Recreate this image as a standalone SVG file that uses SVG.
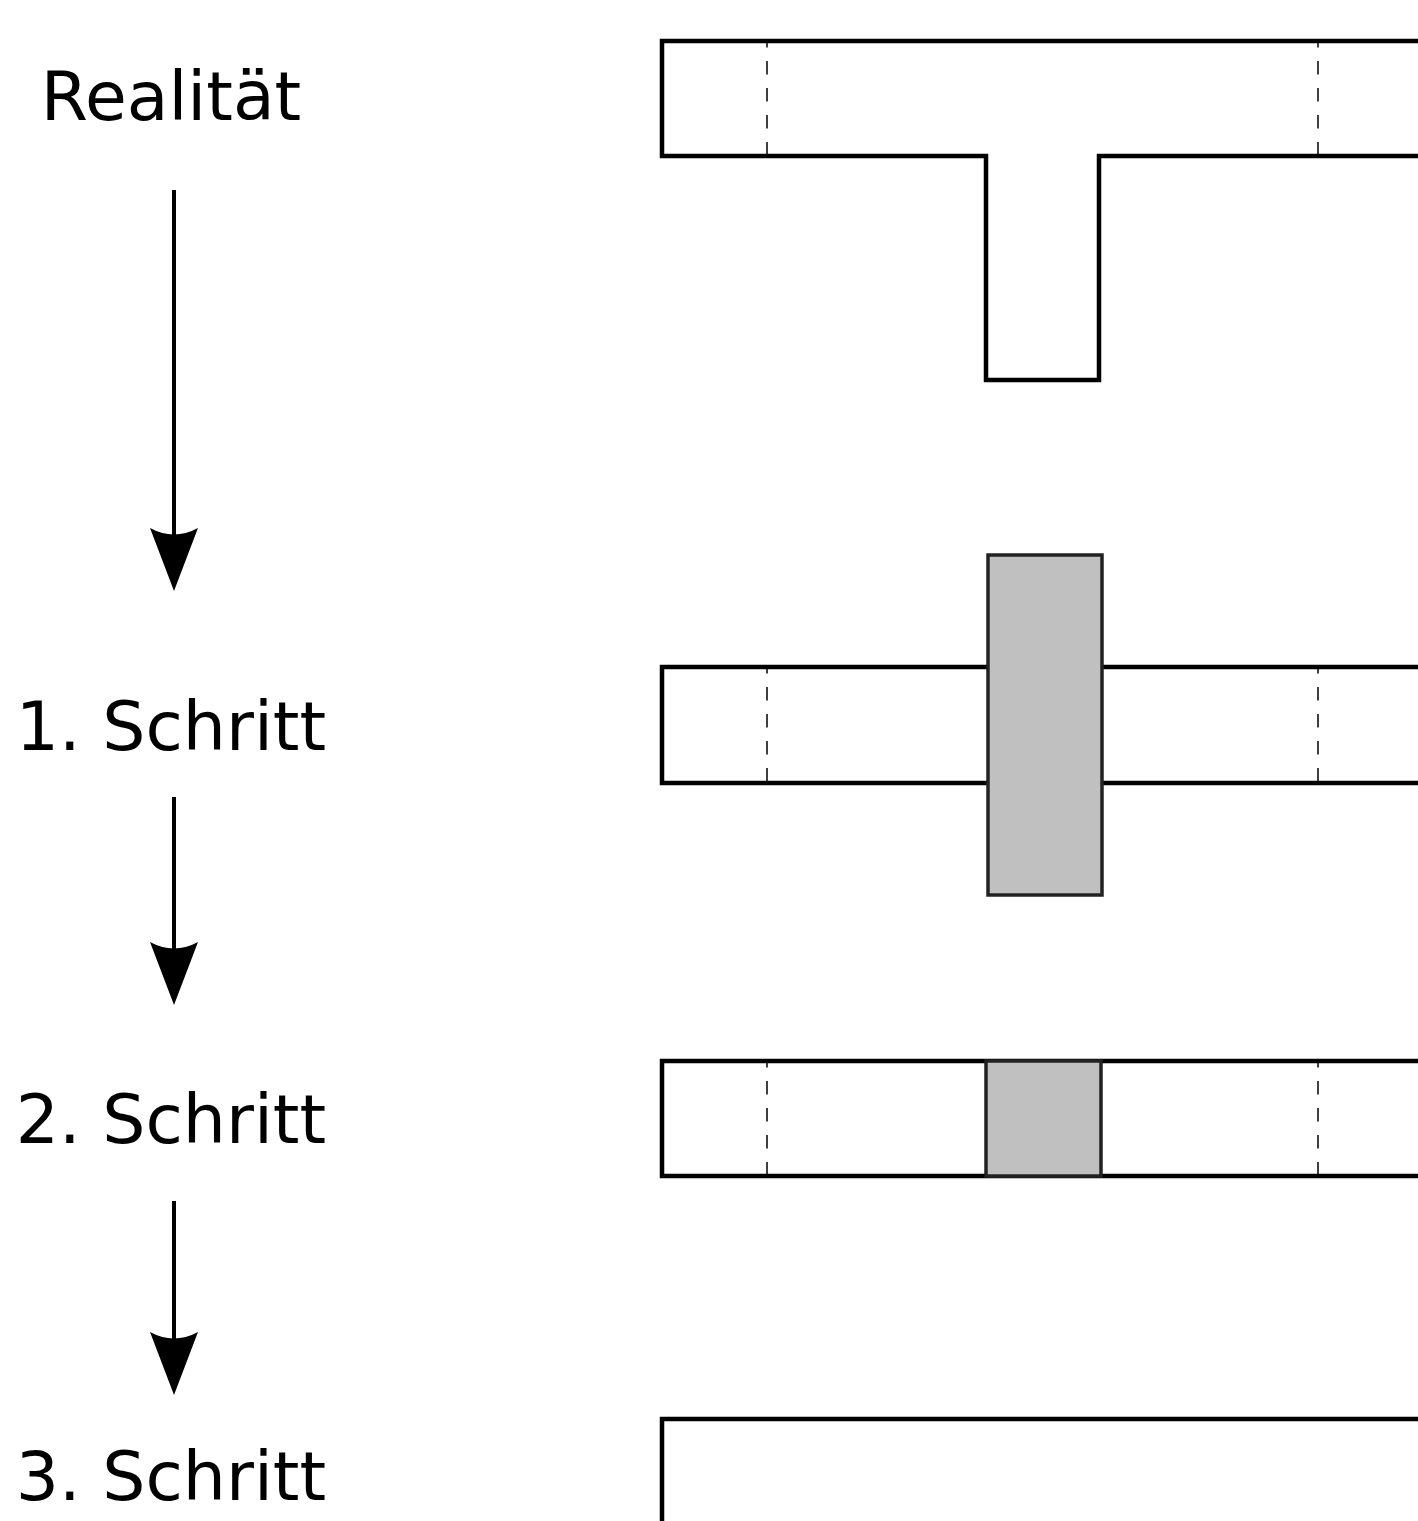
<svg xmlns="http://www.w3.org/2000/svg" width="1418" height="1521" viewBox="0 0 1418 1521">
<style>
.o{fill:none;stroke:#000;stroke-width:4.5;stroke-linejoin:miter}
.w{fill:#fff;stroke:#000;stroke-width:4.5}
.d{stroke:#000;stroke-width:1.5;stroke-dasharray:13.5 13.5;stroke-dashoffset:7}
.g{fill:#c0c0c0;stroke:#222;stroke-width:3.5}
.t{font-family:"DejaVu Sans",sans-serif;font-size:68px;fill:#000;text-anchor:middle}
.a{stroke:#000;stroke-width:4}
</style>
<defs>
<path id="head" d="M0,0 L-24,-63 Q0,-50 24,-63 Z" fill="#000"/>
</defs>
<rect width="1418" height="1521" fill="#fff"/>
<g id="labels">
<text class="t" x="171" y="120">Realität</text>
<text class="t" x="171" y="750">1. Schritt</text>
<text class="t" x="171" y="1143">2. Schritt</text>
<text class="t" x="171" y="1500">3. Schritt</text>
</g>
<g id="connectors">
<line class="a" x1="174" y1="190" x2="174" y2="545"/>
<use href="#head" x="174" y="591"/>
<line class="a" x1="174" y1="797" x2="174" y2="960"/>
<use href="#head" x="174" y="1005"/>
<line class="a" x1="174" y1="1201" x2="174" y2="1350"/>
<use href="#head" x="174" y="1395"/>
</g>
<g id="reality">
<path class="w" d="M1425,41 L662,41 L662,156 L986,156 L986,380 L1099,380 L1099,156 L1425,156"/>
<line class="d" x1="767" y1="41" x2="767" y2="156"/>
<line class="d" x1="1318" y1="41" x2="1318" y2="156"/>
</g>
<g id="step1">
<path class="w" d="M1425,667 L662,667 L662,783 L1425,783"/>
<line class="d" x1="767" y1="667" x2="767" y2="783"/>
<line class="d" x1="1318" y1="667" x2="1318" y2="783"/>
<rect class="g" x="988" y="555" width="114" height="340"/>
</g>
<g id="step2">
<path class="w" d="M1425,1061 L662,1061 L662,1176 L1425,1176"/>
<line class="d" x1="767" y1="1061" x2="767" y2="1176"/>
<line class="d" x1="1318" y1="1061" x2="1318" y2="1176"/>
<rect class="g" x="986" y="1061" width="115" height="115"/>
</g>
<g id="step3">
<path class="w" d="M1425,1419 L662,1419 L662,1530"/>
</g>
</svg>
